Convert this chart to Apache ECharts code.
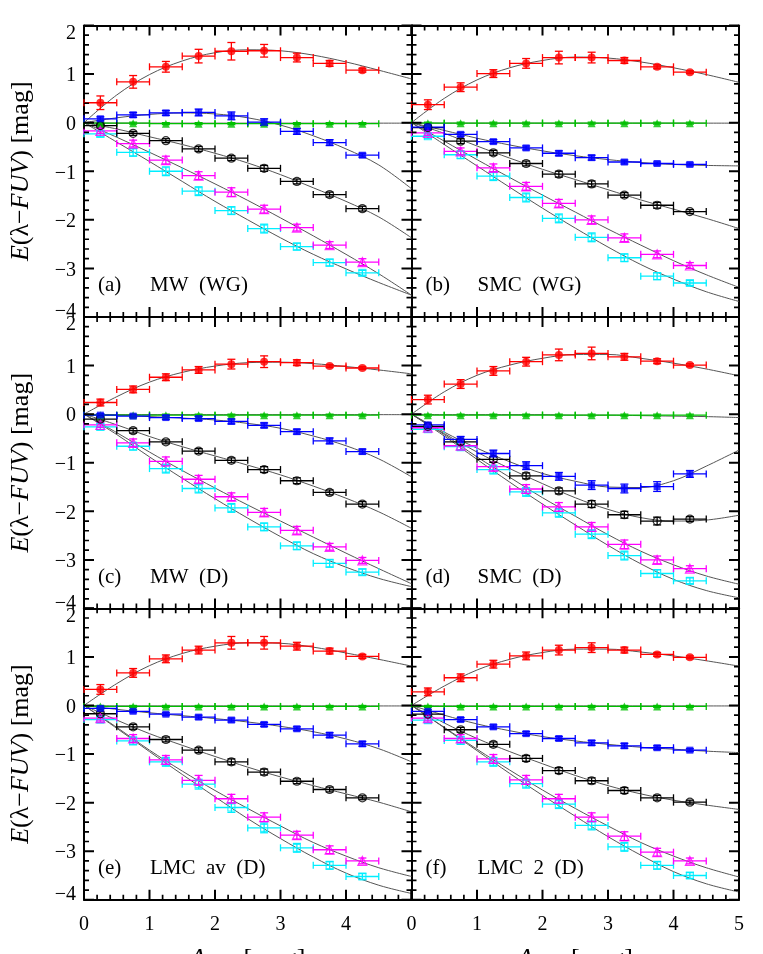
<!DOCTYPE html>
<html><head><meta charset="utf-8">
<script src="https://cdn.jsdelivr.net/npm/echarts@6.0.0/dist/echarts.min.js"></script>
<style>html,body{margin:0;padding:0;background:#fff}#c{width:763px;height:954px}</style>
</head><body><div id="c"></div>
<script>
// ---------------- data ----------------
const xBins = [0.25,0.75,1.25,1.75,2.25,2.75,3.25,3.75,4.25];
const xFit = [0,0.5,1,1.5,2,2.5,3,3.5,4,4.5,5];
const binHalfWidth = 0.25;
const xTicks = [0,1,2,3,4,5];
const yTicks = [-4,-3,-2,-1,0,1,2];
const minorPerMajor = 5;
const panelTags = ['(a)','(b)','(c)','(d)','(e)','(f)'];
const panelNames = ['MW  (WG)','SMC  (WG)','MW  (D)','SMC  (D)','LMC  av  (D)','LMC  2  (D)'];

// panel (a) MW (WG)
const aRed = [0.41,0.84,1.15,1.37,1.47,1.48,1.34,1.22,1.08];
const aRedErr = [0.14,0.13,0.11,0.14,0.18,0.13,0.09,0.06,0.04];
const aRedFit = [0,0.57,0.99,1.27,1.44,1.50,1.48,1.39,1.25,1.08,0.90];
const aGreen = [-0.01,-0.01,-0.02,-0.02,-0.02,-0.02,-0.02,-0.02,-0.02];
const aGreenErr = [0.02,0.02,0.02,0.02,0.02,0.02,0.02,0.02,0.02];
const aGreenFit = [0,-0.01,-0.01,-0.01,-0.01,-0.01,-0.01,-0.01,-0.01,-0.01,-0.01];
const aBlue = [0.08,0.16,0.20,0.21,0.14,0.01,-0.18,-0.41,-0.67];
const aBlueErr = [0.04,0.05,0.05,0.07,0.08,0.07,0.06,0.06,0.04];
const aBlueFit = [0,0.10,0.17,0.20,0.18,0.10,-0.05,-0.27,-0.54,-0.87,-1.36];
const aBlack = [-0.06,-0.22,-0.37,-0.54,-0.73,-0.94,-1.21,-1.48,-1.77];
const aBlackErr = [0.03,0.04,0.04,0.05,0.05,0.06,0.05,0.05,0.05];
const aBlackFit = [0,-0.13,-0.29,-0.45,-0.63,-0.83,-1.07,-1.34,-1.62,-1.94,-2.37];
const aMag = [-0.17,-0.43,-0.77,-1.09,-1.43,-1.78,-2.16,-2.52,-2.87];
const aMagErr = [0.05,0.07,0.08,0.08,0.09,0.08,0.07,0.07,0.07];
const aMagFit = [0,-0.30,-0.61,-0.93,-1.26,-1.60,-1.96,-2.33,-2.71,-3.11,-3.55];
const aCyan = [-0.23,-0.61,-1.00,-1.41,-1.81,-2.18,-2.55,-2.88,-3.09];
const aCyanErr = [0.06,0.08,0.09,0.09,0.08,0.09,0.07,0.07,0.05];
const aCyanFit = [0,-0.40,-0.80,-1.21,-1.62,-2.00,-2.37,-2.71,-3.01,-3.29,-3.55];

// panel (b) SMC (WG)
const bRed = [0.37,0.73,1.01,1.22,1.34,1.34,1.28,1.15,1.04];
const bRedErr = [0.10,0.09,0.08,0.10,0.13,0.11,0.06,0.04,0.03];
const bRedFit = [0,0.50,0.88,1.13,1.28,1.35,1.33,1.25,1.13,0.99,0.83];
const bGreen = [-0.01,-0.01,-0.01,-0.01,-0.01,-0.01,-0.01,-0.01,-0.01];
const bGreenErr = [0.02,0.02,0.02,0.02,0.02,0.02,0.02,0.02,0.02];
const bGreenFit = [0,-0.01,-0.01,-0.01,-0.01,-0.01,-0.01,-0.01,-0.01,-0.01,-0.01];
const bBlue = [-0.09,-0.24,-0.39,-0.52,-0.63,-0.72,-0.81,-0.84,-0.86];
const bBlueErr = [0.03,0.04,0.04,0.04,0.05,0.05,0.04,0.03,0.03];
const bBlueFit = [0,-0.16,-0.32,-0.46,-0.58,-0.68,-0.76,-0.82,-0.86,-0.88,-0.89];
const bBlack = [-0.10,-0.38,-0.62,-0.84,-1.06,-1.26,-1.49,-1.70,-1.83];
const bBlackErr = [0.04,0.05,0.05,0.05,0.06,0.06,0.05,0.06,0.04];
const bBlackFit = [0,-0.22,-0.48,-0.73,-0.96,-1.17,-1.38,-1.59,-1.78,-1.97,-2.18];
const bMag = [-0.21,-0.59,-0.93,-1.31,-1.66,-2.00,-2.37,-2.71,-2.94];
const bMagErr = [0.05,0.07,0.08,0.08,0.08,0.08,0.08,0.07,0.06];
const bMagFit = [0,-0.38,-0.76,-1.13,-1.49,-1.84,-2.19,-2.52,-2.84,-3.13,-3.39];
const bCyan = [-0.28,-0.66,-1.10,-1.54,-1.97,-2.36,-2.78,-3.16,-3.30];
const bCyanErr = [0.05,0.08,0.09,0.09,0.09,0.09,0.08,0.07,0.05];
const bCyanFit = [0,-0.45,-0.89,-1.33,-1.76,-2.17,-2.56,-2.92,-3.22,-3.48,-3.68];

// panel (c) MW (D)
const cRed = [0.24,0.51,0.76,0.91,1.03,1.08,1.06,0.99,0.95];
const cRedErr = [0.07,0.07,0.07,0.07,0.10,0.12,0.06,0.03,0.03];
const cRedFit = [0,0.36,0.66,0.86,0.99,1.06,1.07,1.04,0.98,0.91,0.83];
const cGreen = [-0.02,-0.02,-0.02,-0.02,-0.02,-0.02,-0.02,-0.02,-0.02];
const cGreenErr = [0.02,0.02,0.02,0.02,0.02,0.02,0.02,0.02,0.02];
const cGreenFit = [0,-0.01,-0.01,-0.01,-0.01,-0.01,-0.01,-0.01,-0.01,-0.01,-0.01];
const cBlue = [-0.02,-0.04,-0.07,-0.09,-0.15,-0.23,-0.36,-0.55,-0.77];
const cBlueErr = [0.03,0.03,0.04,0.04,0.05,0.05,0.05,0.06,0.05];
const cBlueFit = [0,-0.02,-0.05,-0.08,-0.12,-0.19,-0.29,-0.45,-0.65,-0.92,-1.29];
const cBlack = [-0.10,-0.34,-0.57,-0.76,-0.95,-1.14,-1.37,-1.61,-1.85];
const cBlackErr = [0.04,0.05,0.04,0.05,0.05,0.06,0.06,0.05,0.05];
const cBlackFit = [0,-0.22,-0.46,-0.67,-0.86,-1.05,-1.25,-1.48,-1.73,-2.01,-2.35];
const cMag = [-0.22,-0.59,-0.97,-1.34,-1.70,-2.02,-2.39,-2.73,-3.01];
const cMagErr = [0.05,0.08,0.09,0.08,0.08,0.08,0.08,0.07,0.06];
const cMagFit = [0,-0.38,-0.78,-1.16,-1.52,-1.87,-2.20,-2.53,-2.86,-3.18,-3.49];
const cCyan = [-0.26,-0.66,-1.12,-1.53,-1.93,-2.32,-2.71,-3.07,-3.25];
const cCyanErr = [0.06,0.08,0.09,0.09,0.09,0.08,0.08,0.08,0.06];
const cCyanFit = [0,-0.42,-0.88,-1.32,-1.74,-2.14,-2.52,-2.87,-3.15,-3.38,-3.55];

// panel (d) SMC (D)
const dRed = [0.30,0.62,0.89,1.08,1.22,1.25,1.18,1.09,1.01];
const dRedErr = [0.09,0.09,0.09,0.09,0.12,0.13,0.07,0.05,0.03];
const dRedFit = [0,0.46,0.80,1.01,1.15,1.23,1.23,1.15,1.05,0.93,0.79];
const dGreen = [-0.02,-0.02,-0.02,-0.02,-0.02,-0.02,-0.02,-0.02,-0.02];
const dGreenErr = [0.02,0.02,0.02,0.02,0.02,0.02,0.02,0.02,0.02];
const dGreenFit = [0,-0.01,-0.01,-0.01,-0.01,-0.02,-0.02,-0.03,-0.04,-0.05,-0.07];
const dBlue = [-0.22,-0.52,-0.81,-1.06,-1.28,-1.46,-1.53,-1.49,-1.23];
const dBlueErr = [0.04,0.06,0.07,0.08,0.08,0.09,0.09,0.10,0.07];
const dBlueFit = [0,-0.37,-0.70,-0.98,-1.22,-1.38,-1.50,-1.51,-1.37,-1.07,-0.74];
const dBlack = [-0.25,-0.57,-0.93,-1.27,-1.58,-1.85,-2.07,-2.20,-2.16];
const dBlackErr = [0.04,0.05,0.06,0.06,0.06,0.07,0.07,0.08,0.05];
const dBlackFit = [0,-0.40,-0.78,-1.12,-1.43,-1.72,-1.96,-2.13,-2.20,-2.18,-2.08];
const dMag = [-0.28,-0.65,-1.08,-1.54,-1.91,-2.32,-2.68,-3.00,-3.18];
const dMagErr = [0.06,0.08,0.09,0.09,0.09,0.09,0.09,0.08,0.06];
const dMagFit = [0,-0.42,-0.88,-1.30,-1.72,-2.10,-2.48,-2.82,-3.10,-3.33,-3.50];
const dCyan = [-0.31,-0.67,-1.14,-1.60,-2.03,-2.47,-2.91,-3.28,-3.43];
const dCyanErr = [0.06,0.08,0.09,0.09,0.09,0.09,0.09,0.08,0.06];
const dCyanFit = [0,-0.45,-0.93,-1.40,-1.85,-2.28,-2.70,-3.08,-3.40,-3.63,-3.78];

// panel (e) LMC av (D)
const eRed = [0.33,0.67,0.96,1.14,1.29,1.29,1.22,1.12,1.01];
const eRedErr = [0.10,0.09,0.08,0.08,0.13,0.13,0.08,0.06,0.04];
const eRedFit = [0,0.45,0.82,1.07,1.22,1.29,1.28,1.20,1.08,0.95,0.81];
const eGreen = [-0.02,-0.02,-0.02,-0.02,-0.02,-0.02,-0.02,-0.02,-0.02];
const eGreenErr = [0.02,0.02,0.02,0.02,0.02,0.02,0.02,0.02,0.02];
const eGreenFit = [0,-0.01,-0.01,-0.01,-0.01,-0.01,-0.01,-0.01,-0.01,-0.01,-0.01];
const eBlue = [-0.06,-0.12,-0.18,-0.24,-0.30,-0.39,-0.48,-0.61,-0.79];
const eBlueErr = [0.03,0.03,0.03,0.04,0.04,0.04,0.04,0.05,0.05];
const eBlueFit = [0,-0.08,-0.15,-0.21,-0.27,-0.34,-0.43,-0.54,-0.69,-0.89,-1.16];
const eBlack = [-0.17,-0.44,-0.70,-0.92,-1.16,-1.37,-1.56,-1.73,-1.90];
const eBlackErr = [0.04,0.05,0.05,0.05,0.06,0.06,0.05,0.05,0.04];
const eBlackFit = [0,-0.30,-0.58,-0.82,-1.05,-1.27,-1.47,-1.65,-1.82,-1.99,-2.19];
const eMag = [-0.26,-0.68,-1.12,-1.54,-1.92,-2.30,-2.67,-2.97,-3.20];
const eMagErr = [0.06,0.08,0.09,0.10,0.09,0.09,0.08,0.08,0.06];
const eMagFit = [0,-0.45,-0.92,-1.35,-1.75,-2.12,-2.48,-2.82,-3.10,-3.34,-3.52];
const eCyan = [-0.29,-0.73,-1.16,-1.62,-2.10,-2.52,-2.93,-3.29,-3.52];
const eCyanErr = [0.06,0.08,0.09,0.10,0.10,0.10,0.09,0.08,0.06];
const eCyanFit = [0,-0.47,-0.95,-1.42,-1.88,-2.33,-2.74,-3.12,-3.45,-3.70,-3.87];

// panel (f) LMC 2 (D)
const fRed = [0.28,0.57,0.85,1.02,1.14,1.19,1.14,1.05,0.99];
const fRedErr = [0.08,0.08,0.08,0.08,0.10,0.10,0.06,0.04,0.03];
const fRedFit = [0,0.40,0.73,0.95,1.09,1.16,1.16,1.10,1.02,0.92,0.81];
const fGreen = [-0.02,-0.02,-0.02,-0.02,-0.02,-0.02,-0.02,-0.02,-0.02];
const fGreenErr = [0.02,0.02,0.02,0.02,0.02,0.02,0.02,0.02,0.02];
const fGreenFit = [0,-0.01,-0.01,-0.01,-0.01,-0.01,-0.01,-0.01,-0.01,-0.01,-0.01];
const fBlue = [-0.12,-0.29,-0.44,-0.58,-0.68,-0.77,-0.83,-0.87,-0.92];
const fBlueErr = [0.03,0.04,0.04,0.04,0.04,0.05,0.05,0.04,0.03];
const fBlueFit = [0,-0.20,-0.38,-0.52,-0.64,-0.73,-0.80,-0.86,-0.90,-0.94,-0.97];
const fBlack = [-0.18,-0.50,-0.80,-1.09,-1.34,-1.55,-1.75,-1.90,-1.99];
const fBlackErr = [0.04,0.05,0.05,0.06,0.06,0.06,0.06,0.05,0.04];
const fBlackFit = [0,-0.36,-0.68,-0.95,-1.20,-1.44,-1.65,-1.82,-1.95,-2.05,-2.14];
const fMag = [-0.26,-0.68,-1.10,-1.53,-1.92,-2.30,-2.69,-3.02,-3.20];
const fMagErr = [0.06,0.08,0.09,0.09,0.09,0.09,0.09,0.08,0.06];
const fMagFit = [0,-0.45,-0.90,-1.33,-1.74,-2.12,-2.48,-2.82,-3.10,-3.34,-3.53];
const fCyan = [-0.30,-0.72,-1.16,-1.61,-2.03,-2.47,-2.91,-3.29,-3.50];
const fCyanErr = [0.06,0.08,0.09,0.09,0.09,0.09,0.09,0.08,0.06];
const fCyanFit = [0,-0.46,-0.93,-1.40,-1.85,-2.28,-2.70,-3.08,-3.42,-3.67,-3.84];

// ---------------- build ----------------
const panels = [
  {green:[aGreen,aGreenErr,aGreenFit], red:[aRed,aRedErr,aRedFit], blue:[aBlue,aBlueErr,aBlueFit], black:[aBlack,aBlackErr,aBlackFit], mag:[aMag,aMagErr,aMagFit], cyan:[aCyan,aCyanErr,aCyanFit]},
  {green:[bGreen,bGreenErr,bGreenFit], red:[bRed,bRedErr,bRedFit], blue:[bBlue,bBlueErr,bBlueFit], black:[bBlack,bBlackErr,bBlackFit], mag:[bMag,bMagErr,bMagFit], cyan:[bCyan,bCyanErr,bCyanFit]},
  {green:[cGreen,cGreenErr,cGreenFit], red:[cRed,cRedErr,cRedFit], blue:[cBlue,cBlueErr,cBlueFit], black:[cBlack,cBlackErr,cBlackFit], mag:[cMag,cMagErr,cMagFit], cyan:[cCyan,cCyanErr,cCyanFit]},
  {green:[dGreen,dGreenErr,dGreenFit], red:[dRed,dRedErr,dRedFit], blue:[dBlue,dBlueErr,dBlueFit], black:[dBlack,dBlackErr,dBlackFit], mag:[dMag,dMagErr,dMagFit], cyan:[dCyan,dCyanErr,dCyanFit]},
  {green:[eGreen,eGreenErr,eGreenFit], red:[eRed,eRedErr,eRedFit], blue:[eBlue,eBlueErr,eBlueFit], black:[eBlack,eBlackErr,eBlackFit], mag:[eMag,eMagErr,eMagFit], cyan:[eCyan,eCyanErr,eCyanFit]},
  {green:[fGreen,fGreenErr,fGreenFit], red:[fRed,fRedErr,fRedFit], blue:[fBlue,fBlueErr,fBlueFit], black:[fBlack,fBlackErr,fBlackFit], mag:[fMag,fMagErr,fMagFit], cyan:[fCyan,fCyanErr,fCyanFit]}
];

const styles = {
  green: {color:'#00c000', symbol:'triangle', size:8, hollow:false},
  black: {color:'#000000', symbol:'circle', size:8, hollow:true},
  blue:  {color:'#0000ff', symbol:'rect', size:7, hollow:false},
  cyan:  {color:'#00eeff', symbol:'rect', size:7, hollow:true},
  mag:   {color:'#ff00ff', symbol:'triangle', size:9, hollow:true},
  red:   {color:'#ff0000', symbol:'circle', size:8, hollow:false}
};
const order = ['green','cyan','mag','black','blue','red'];

const FONT = 'Liberation Serif';
const colX = [84, 411.5], rowY = [25.5, 317, 608.3];
const PW = 327.5, PH = 291.5;
const X_MIN = xTicks[0], X_MAX = xTicks[xTicks.length-1];
const Y_MIN = yTicks[0], Y_MAX = yTicks[yTicks.length-1];

function tickFmtY(v){
  const s = v < 0 ? '\u2212' + Math.abs(v) : String(v);
  if (v === Y_MIN) return '{lo|' + s + '}';
  if (v === Y_MAX) return '{hi|' + s + '}';
  return '{n|' + s + '}';
}

// major and minor tick values, derived from the tick arrays
function splitTicks(arr) {
  const major = arr.slice(), minor = [];
  for (let k = 0; k < arr.length - 1; k++) {
    const step = (arr[k+1] - arr[k]) / minorPerMajor;
    for (let m = 1; m < minorPerMajor; m++) minor.push(arr[k] + m*step);
  }
  return {major, minor};
}
const XT = splitTicks(xTicks), YT = splitTicks(yTicks);

// one custom element per panel drawing all inside ticks on the four sides via the axes' scales
function renderTicks(params, api) {
  const build = (xs, ys, len) => {
    let d = '';
    xs.forEach(v => {
      const b = api.coord([v, Y_MIN]), t = api.coord([v, Y_MAX]);
      d += 'M' + b[0] + ' ' + b[1] + 'L' + b[0] + ' ' + (b[1]-len);
      d += 'M' + t[0] + ' ' + t[1] + 'L' + t[0] + ' ' + (t[1]+len);
    });
    ys.forEach(v => {
      const l = api.coord([X_MIN, v]), r = api.coord([X_MAX, v]);
      d += 'M' + l[0] + ' ' + l[1] + 'L' + (l[0]+len) + ' ' + l[1];
      d += 'M' + r[0] + ' ' + r[1] + 'L' + (r[0]-len) + ' ' + r[1];
    });
    return d;
  };
  return {type:'group', children:[
    {type:'path', shape:{pathData: build(XT.major, YT.major, 10)}, style:{stroke:'#000', lineWidth:2, fill:null}},
    {type:'path', shape:{pathData: build(XT.minor, YT.minor, 5)}, style:{stroke:'#000', lineWidth:1.7, fill:null}}
  ]};
}

function makeBase(i) {
  return {
    type:'value', gridIndex:i,
    axisLine:{show:true, onZero:false, lineStyle:{color:'#000', width:2}},
    axisTick:{show:false}, minorTick:{show:false},
    splitLine:{show:false}, minorSplitLine:{show:false}
  };
}

const grid = [], xAxis = [], yAxis = [], series = [], title = [];
panels.forEach((p, i) => {
  const row = Math.floor(i/2), col = i % 2;
  grid.push({left: colX[col], top: rowY[row], width: PW, height: PH, outerBoundsMode:'none', containLabel:false});
  const xb = Object.assign(makeBase(i), {min:X_MIN, max:X_MAX, interval:1, position:'bottom',
    axisLabel:{show: row===2, margin:15, color:'#000', fontFamily:FONT, fontSize:20, showMinLabel:true, showMaxLabel:true,
      formatter: v => (col===0 && v===X_MAX) ? '' : String(v)}});
  if (row === 2) {
    Object.assign(xb, {name:'{i|A}{s|FUV} [mag]', nameLocation:'middle', nameGap:44,
      nameTextStyle:{color:'#000', fontFamily:FONT, fontSize:26,
        rich:{i:{fontStyle:'italic', fontFamily:FONT, fontSize:26},
              s:{fontStyle:'italic', fontFamily:FONT, fontSize:16, padding:[14,0,0,0]}}}});
  }
  xAxis.push(xb);
  xAxis.push(Object.assign(makeBase(i), {min:X_MIN, max:X_MAX, interval:1, position:'top', axisLabel:{show:false}}));
  const labRich = {
    n: {fontFamily:FONT, fontSize:20, color:'#000', padding:[4,0,0,0]},
    lo:{fontFamily:FONT, fontSize:20, color:'#000', padding:[0,0,10,0]},
    hi:{fontFamily:FONT, fontSize:20, color:'#000', padding:[16,0,0,0]}
  };
  const yl = Object.assign(makeBase(i), {min:Y_MIN, max:Y_MAX, interval:1, position:'left',
    axisLabel:{show: col===0, margin:8, color:'#000', fontFamily:FONT, fontSize:20, showMinLabel:true, showMaxLabel:true,
      hideOverlap:false, formatter: tickFmtY, rich: labRich}});
  if (col === 0) {
    Object.assign(yl, {name:'{i|E}(\u03bb\u2212{i|FUV}) [mag]', nameLocation:'middle', nameRotate:90, nameGap:50,
      nameTextStyle:{color:'#000', fontFamily:FONT, fontSize:26,
        rich:{i:{fontStyle:'italic', fontFamily:FONT, fontSize:26}}}});
  }
  yAxis.push(yl);
  yAxis.push(Object.assign(makeBase(i), {min:Y_MIN, max:Y_MAX, interval:1, position:'right', axisLabel:{show:false}}));

  const xi = i*2, yi = i*2;
  series.push({type:'custom', coordinateSystem:'cartesian2d', xAxisIndex:xi, yAxisIndex:yi, z:5, silent:true, clip:false,
    encode:{x:0, y:1}, data: [[X_MIN + 1, Y_MIN + 1]], renderItem: renderTicks});
  // fits
  order.forEach(k => {
    series.push({type:'line', xAxisIndex:xi, yAxisIndex:yi, smooth:0.35, showSymbol:false, silent:true, z:1,
      lineStyle:{color:'#555', width:1}, data: xFit.map((x, j) => [x, p[k][2][j]])});
  });
  // data points with error bars
  order.forEach(k => {
    const st = styles[k];
    const vals = p[k][0], errs = p[k][1];
    series.push({type:'custom', xAxisIndex:xi, yAxisIndex:yi, z:2, silent:true,
      encode:{x:0, y:1},
      data: xBins.map((x, j) => [x, vals[j], errs[j]]),
      renderItem: (params, api) => {
        const x = api.value(0), y = api.value(1), e = api.value(2);
        const pL = api.coord([x - binHalfWidth, y]), pR = api.coord([x + binHalfWidth, y]);
        const pT = api.coord([x, y + e]), pB = api.coord([x, y - e]);
        const s = {stroke: st.color, lineWidth: 1.3};
        const capH = 3.5, capV = 4;
        return {type:'group', children:[
          {type:'line', shape:{x1:pL[0], y1:pL[1], x2:pR[0], y2:pR[1]}, style:s},
          {type:'line', shape:{x1:pL[0], y1:pL[1]-capH, x2:pL[0], y2:pL[1]+capH}, style:s},
          {type:'line', shape:{x1:pR[0], y1:pR[1]-capH, x2:pR[0], y2:pR[1]+capH}, style:s},
          {type:'line', shape:{x1:pT[0], y1:pT[1], x2:pB[0], y2:pB[1]}, style:s},
          {type:'line', shape:{x1:pT[0]-capV, y1:pT[1], x2:pT[0]+capV, y2:pT[1]}, style:s},
          {type:'line', shape:{x1:pB[0]-capV, y1:pB[1], x2:pB[0]+capV, y2:pB[1]}, style:s}
        ]};
      }});
    series.push({type:'scatter', xAxisIndex:xi, yAxisIndex:yi, z:3, silent:true,
      symbol: st.symbol, symbolSize: st.size,
      itemStyle: st.hollow ? {color:'rgba(255,255,255,0)', borderColor:st.color, borderWidth:1.2}
                           : {color:st.color, borderWidth:0},
      data: xBins.map((x, j) => [x, vals[j]])});
  });
  title.push({text: panelTags[i], left: colX[col] + 14, top: rowY[row] + PH - 42, padding:0,
    textStyle:{fontFamily:FONT, fontSize:21, fontWeight:'normal', color:'#000'}});
  title.push({text: panelNames[i], left: colX[col] + 66, top: rowY[row] + PH - 42, padding:0,
    textStyle:{fontFamily:FONT, fontSize:21, fontWeight:'normal', color:'#000'}});
});

const chart = echarts.init(document.getElementById('c'), null, {renderer:'canvas'});
chart.setOption({animation:false, backgroundColor:'#fff', title, grid, xAxis, yAxis, series});
</script>
</body></html>
